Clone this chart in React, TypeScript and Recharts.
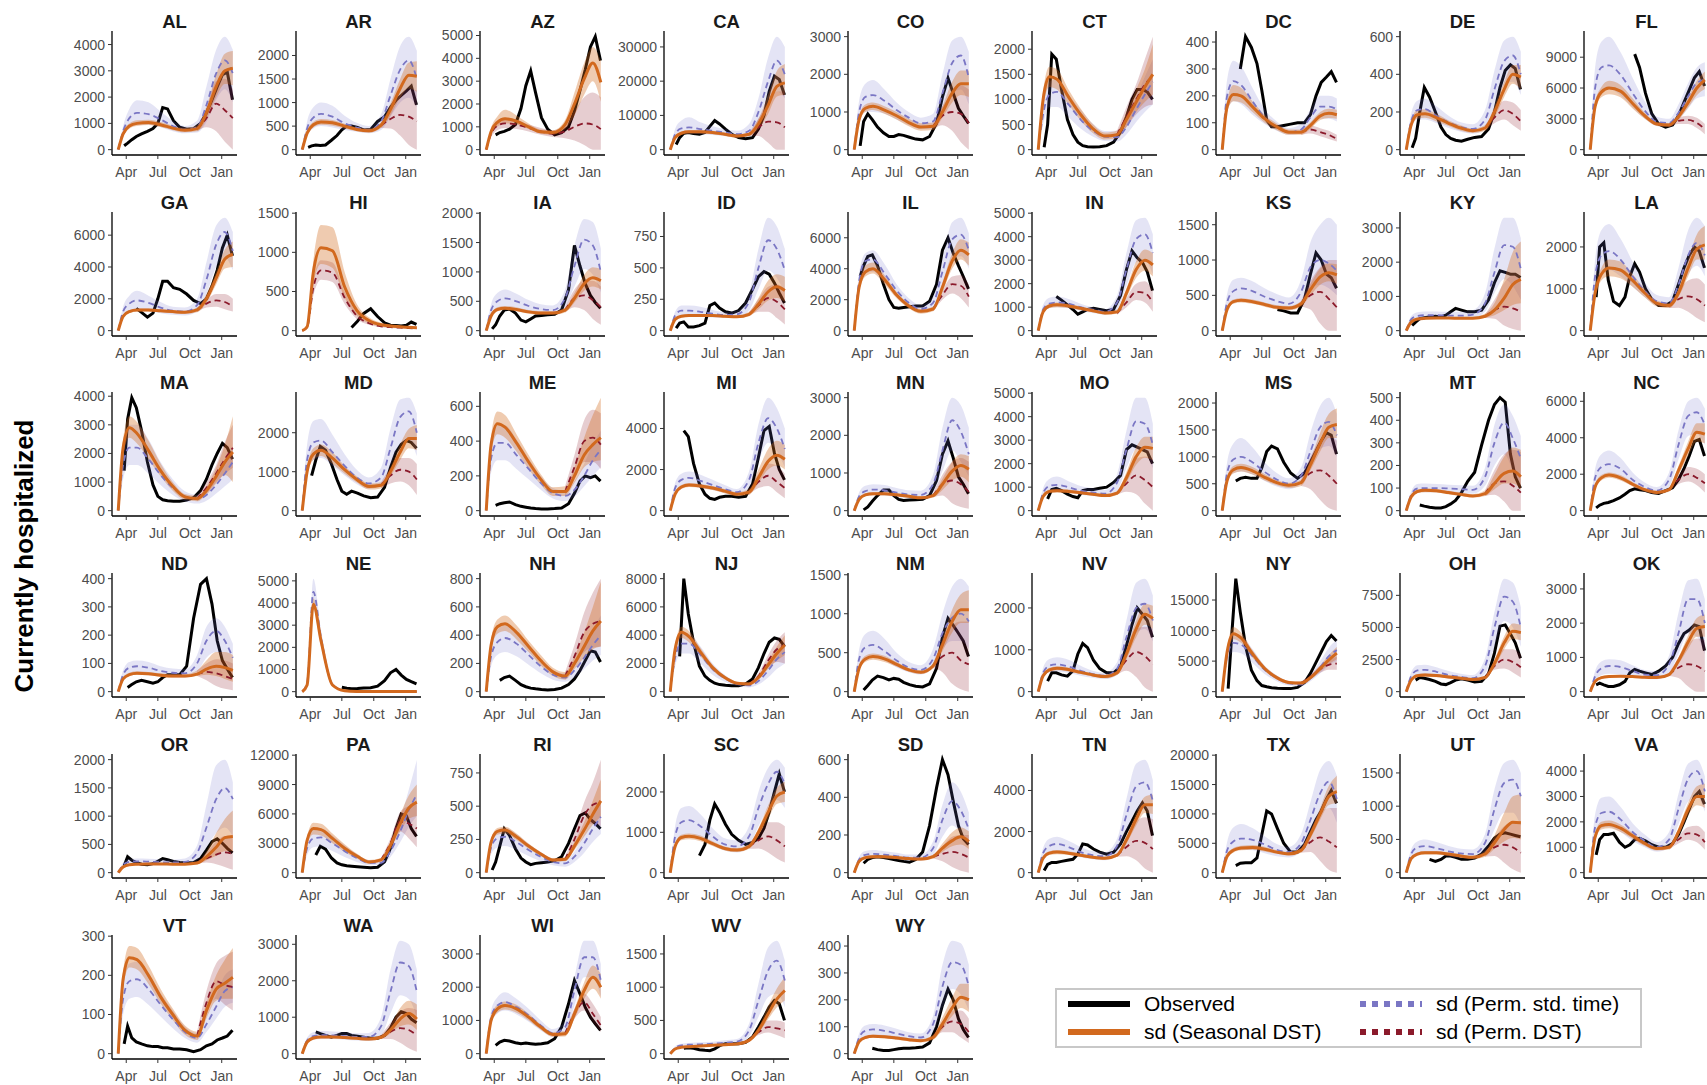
import React from 'react';
import { ComposedChart, Area, Line, XAxis, YAxis } from 'recharts';

const _ = null;

// days counted from 1 Mar 2020
const obsDays = [25, 35, 47, 60, 75, 92, 108, 122, 136, 150, 167, 185, 205, 225, 245, 262, 278, 293, 308, 322, 337];
const modelDays = [8, 22, 40, 62, 95, 130, 165, 200, 235, 262, 290, 315, 338];
const monthTicks = [31, 122, 214, 306];
const monthNames: Record<number, string> = { 31: 'Apr', 122: 'Jul', 214: 'Oct', 306: 'Jan' };

type Panel = {
  ticks: number[];
  obs: (number | null)[];
  sd: number[]; sdLo: number[]; sdHi: number[];
  std: number[]; stdLo: number[]; stdHi: number[];
  dst: number[]; dstLo: number[]; dstHi: number[];
};

const AL: Panel = {
  ticks: [0, 1000, 2000, 3000, 4000],
  obs: [150, 250, 380, 500, 600, 700, 800, 1000, 1600, 1550, 1100, 850, 780, 800, 1000, 1400, 1900, 2400, 2850, 2950, 1900],
  sd: [0, 600, 900, 1000, 1030, 950, 820, 740, 800, 1400, 2400, 3000, 3100],
  sdLo: [0, 500, 800, 900, 940, 860, 740, 660, 700, 1150, 2000, 2500, 2450],
  sdHi: [0, 700, 1000, 1120, 1140, 1050, 910, 830, 920, 1650, 2850, 3650, 3750],
  std: [0, 700, 1200, 1400, 1350, 1150, 900, 760, 850, 1700, 2900, 3400, 2900],
  stdLo: [0, 500, 850, 950, 950, 850, 700, 620, 650, 1050, 1900, 2300, 1800],
  stdHi: [0, 900, 1550, 1880, 1800, 1450, 1100, 900, 1100, 2400, 3800, 4300, 3800],
  dst: [800, 1200, 1750, 1500, 1200],
  dstLo: [700, 850, 700, 300, 0],
  dstHi: [900, 1550, 2600, 2700, 2300],
};
const AR: Panel = {
  ticks: [0, 500, 1000, 1500, 2000],
  obs: [50, 80, 100, 90, 100, 200, 300, 420, 500, 500, 470, 420, 430, 600, 700, 900, 1050, 1150, 1250, 1350, 950],
  sd: [0, 350, 530, 590, 570, 500, 430, 400, 520, 850, 1300, 1580, 1560],
  sdLo: [0, 300, 470, 530, 510, 450, 390, 360, 460, 720, 1100, 1300, 1230],
  sdHi: [0, 400, 590, 650, 630, 550, 470, 450, 580, 980, 1500, 1850, 1880],
  std: [0, 450, 680, 760, 700, 560, 470, 420, 600, 1150, 1700, 1900, 1500],
  stdLo: [0, 300, 450, 500, 470, 420, 380, 350, 420, 700, 1000, 1100, 900],
  stdHi: [0, 600, 900, 1000, 930, 720, 570, 500, 750, 1500, 2200, 2400, 2100],
  dst: [520, 650, 740, 700, 600],
  dstLo: [460, 450, 300, 100, 0],
  dstHi: [580, 850, 1150, 1300, 1250],
};
const AZ: Panel = {
  ticks: [0, 1000, 2000, 3000, 4000, 5000],
  obs: [_, 650, 750, 800, 900, 1100, 1800, 2800, 3450, 2500, 1400, 900, 650, 750, 1000, 1700, 2600, 3500, 4500, 4950, 3900],
  sd: [0, 800, 1200, 1350, 1250, 1000, 780, 750, 1100, 2000, 3100, 3800, 2950],
  sdLo: [0, 650, 1000, 1150, 1100, 900, 700, 650, 900, 1500, 2400, 3000, 2100],
  sdHi: [0, 950, 1450, 1750, 1500, 1150, 880, 850, 1300, 2500, 3800, 4500, 3900],
  std: [], stdLo: [], stdHi: [],
  dst: [0, 700, 1050, 1150, 1100, 950, 800, 700, 800, 1000, 1150, 1100, 900],
  dstLo: [0, 550, 850, 950, 900, 800, 650, 550, 500, 400, 200, 0, 0],
  dstHi: [0, 850, 1250, 1400, 1300, 1100, 950, 850, 1100, 1700, 2300, 2500, 2300],
};
const CA: Panel = {
  ticks: [0, 10000, 20000, 30000],
  obs: [1500, 3500, 4800, 5000, 4700, 4500, 5000, 6800, 8500, 7500, 6000, 4500, 3500, 3200, 3500, 6000, 10000, 17000, 21500, 20500, 16000],
  sd: [0, 3500, 4800, 5200, 5200, 5000, 4500, 4000, 4500, 7500, 13000, 18500, 19500],
  sdLo: [0, 3000, 4300, 4700, 4700, 4500, 4000, 3500, 4000, 6000, 10500, 15500, 16000],
  sdHi: [0, 4000, 5300, 5700, 5700, 5500, 5000, 4500, 5000, 9000, 16000, 23000, 25000],
  std: [0, 4500, 6200, 6500, 6000, 5500, 5000, 4500, 5500, 11000, 20000, 26000, 22000],
  stdLo: [0, 3000, 4500, 4700, 4500, 4300, 4000, 3500, 4000, 7000, 13000, 17000, 15000],
  stdHi: [0, 6000, 8500, 9500, 8000, 6800, 6000, 5500, 7500, 15000, 27000, 33000, 30000],
  dst: [4500, 6500, 8200, 8000, 6500],
  dstLo: [4000, 4000, 2000, 0, 0],
  dstHi: [5000, 9000, 14000, 17000, 17000],
};
const CO: Panel = {
  ticks: [0, 1000, 2000, 3000],
  obs: [100, 750, 950, 800, 600, 450, 350, 350, 400, 380, 330, 280, 260, 350, 700, 1400, 1900, 1500, 1100, 900, 700],
  sd: [0, 800, 1100, 1150, 1050, 900, 720, 600, 620, 1000, 1500, 1750, 1750],
  sdLo: [0, 700, 1000, 1050, 950, 800, 620, 500, 520, 850, 1250, 1450, 1400],
  sdHi: [0, 900, 1200, 1250, 1150, 1000, 820, 700, 720, 1150, 1800, 2100, 2100],
  std: [0, 1000, 1400, 1450, 1300, 1050, 850, 700, 750, 1500, 2300, 2500, 1900],
  stdLo: [0, 700, 1000, 1000, 950, 800, 650, 550, 550, 950, 1500, 1600, 1200],
  stdHi: [0, 1300, 1750, 1850, 1600, 1250, 1000, 850, 950, 2000, 2900, 3000, 2600],
  dst: [620, 900, 1000, 950, 700],
  dstLo: [550, 650, 500, 200, 0],
  dstHi: [700, 1150, 1500, 1700, 1600],
};
const CT: Panel = {
  ticks: [0, 500, 1000, 1500, 2000],
  obs: [50, 500, 1900, 1800, 1200, 600, 300, 150, 80, 60, 55, 60, 80, 150, 350, 650, 1000, 1200, 1200, 1150, 1000],
  sd: [0, 1000, 1450, 1400, 1050, 700, 420, 270, 300, 600, 950, 1250, 1500],
  sdLo: [0, 850, 1250, 1200, 900, 580, 330, 200, 220, 450, 750, 950, 1100],
  sdHi: [0, 1150, 1650, 1600, 1200, 820, 510, 340, 380, 750, 1200, 1600, 2100],
  std: [0, 700, 1100, 1150, 900, 600, 380, 260, 250, 450, 800, 1100, 1350],
  stdLo: [0, 500, 850, 850, 650, 420, 260, 170, 160, 300, 550, 750, 900],
  stdHi: [0, 900, 1350, 1400, 1100, 800, 520, 370, 380, 650, 1050, 1450, 1800],
  dst: [300, 650, 1000, 1300, 1450],
  dstLo: [220, 450, 700, 850, 900],
  dstHi: [380, 850, 1300, 1800, 2250],
};
const DC: Panel = {
  ticks: [0, 100, 200, 300, 400],
  obs: [_, _, _, 300, 420, 380, 320, 220, 110, 85, 85, 90, 95, 100, 100, 130, 200, 250, 270, 290, 250],
  sd: [0, 160, 205, 200, 160, 115, 85, 65, 65, 90, 125, 135, 130],
  sdLo: [0, 140, 180, 175, 140, 100, 72, 55, 55, 78, 110, 118, 115],
  sdHi: [0, 180, 240, 230, 180, 130, 97, 75, 75, 102, 140, 152, 148],
  std: [0, 200, 255, 240, 180, 120, 85, 65, 75, 120, 160, 160, 150],
  stdLo: [0, 140, 180, 170, 130, 95, 70, 55, 60, 90, 115, 115, 105],
  stdHi: [0, 260, 330, 310, 230, 150, 105, 80, 95, 150, 200, 200, 190],
  dst: [65, 75, 65, 55, 40],
  dstLo: [55, 60, 50, 40, 30],
  dstHi: [75, 90, 80, 70, 55],
};
const DE: Panel = {
  ticks: [0, 200, 400, 600],
  obs: [10, 60, 200, 330, 280, 200, 120, 80, 60, 50, 45, 55, 65, 70, 110, 200, 330, 420, 450, 430, 320],
  sd: [0, 130, 185, 190, 170, 140, 115, 100, 115, 200, 320, 400, 385],
  sdLo: [0, 110, 165, 170, 150, 125, 100, 88, 100, 170, 280, 350, 320],
  sdHi: [0, 150, 210, 215, 190, 155, 130, 112, 130, 230, 360, 450, 450],
  std: [0, 150, 210, 215, 180, 145, 120, 110, 160, 320, 470, 500, 400],
  stdLo: [0, 110, 160, 160, 140, 115, 95, 85, 110, 220, 340, 360, 290],
  stdHi: [0, 190, 260, 270, 230, 180, 145, 135, 210, 420, 580, 600, 520],
  dst: [115, 170, 210, 190, 150],
  dstLo: [100, 140, 160, 130, 100],
  dstHi: [130, 200, 260, 250, 210],
};
const FL: Panel = {
  ticks: [0, 3000, 6000, 9000],
  obs: [_, _, _, _, _, _, _, _, 9300, 8000, 5500, 3500, 2500, 2200, 2400, 3300, 4600, 5800, 7000, 7600, 6200],
  sd: [0, 4200, 5600, 6000, 5700, 4500, 3300, 2500, 2400, 3200, 4600, 6000, 6800],
  sdLo: [0, 3800, 5100, 5400, 5100, 4000, 3000, 2300, 2200, 2900, 4100, 5300, 5900],
  sdHi: [0, 4600, 6100, 6700, 6300, 5000, 3600, 2700, 2600, 3500, 5100, 6700, 7600],
  std: [0, 6000, 8000, 8200, 7300, 5500, 3800, 2700, 2600, 3600, 5200, 6500, 6800],
  stdLo: [0, 4200, 5700, 5900, 5300, 4100, 3000, 2300, 2200, 2900, 4000, 5000, 5200],
  stdHi: [0, 8000, 10500, 11000, 9500, 7000, 4700, 3200, 3000, 4400, 6500, 8000, 8500],
  dst: [2400, 2800, 2900, 2600, 2000],
  dstLo: [2200, 2500, 2500, 2100, 1500],
  dstHi: [2600, 3100, 3300, 3100, 2500],
};
const GA: Panel = {
  ticks: [0, 2000, 4000, 6000],
  obs: [_, _, _, 1400, 1150, 850, 1100, 2000, 3100, 3100, 2700, 2600, 2300, 1900, 1700, 2000, 2800, 3800, 5200, 6000, 4700],
  sd: [0, 900, 1200, 1300, 1300, 1250, 1200, 1150, 1300, 2000, 3300, 4500, 4800],
  sdLo: [0, 800, 1100, 1200, 1200, 1150, 1100, 1050, 1150, 1750, 2900, 3900, 4000],
  sdHi: [0, 1000, 1300, 1400, 1400, 1350, 1300, 1250, 1450, 2300, 3700, 5100, 5600],
  std: [0, 1200, 1700, 1900, 1750, 1450, 1250, 1200, 1600, 3200, 5400, 6200, 5000],
  stdLo: [0, 900, 1200, 1350, 1250, 1100, 1000, 950, 1200, 2300, 4000, 4600, 3800],
  stdHi: [0, 1500, 2200, 2500, 2200, 1800, 1500, 1450, 2000, 4300, 6600, 7100, 6200],
  dst: [1300, 1700, 1900, 1800, 1500],
  dstLo: [1150, 1450, 1500, 1350, 1200],
  dstHi: [1450, 1950, 2300, 2300, 2000],
};
const HI: Panel = {
  ticks: [0, 500, 1000, 1500],
  obs: [_, _, _, _, _, _, _, _, _, 40, 120, 220, 280, 180, 100, 70, 65, 60, 70, 110, 80],
  sd: [0, 50, 750, 1060, 1020, 560, 260, 130, 75, 60, 50, 42, 38],
  sdLo: [0, 40, 600, 850, 800, 420, 190, 95, 55, 45, 38, 32, 28],
  sdHi: [0, 60, 900, 1350, 1320, 750, 340, 170, 100, 80, 65, 55, 50],
  std: [], stdLo: [], stdHi: [],
  dst: [0, 40, 550, 770, 740, 420, 190, 95, 55, 45, 38, 32, 28],
  dstLo: [0, 30, 450, 650, 620, 340, 150, 75, 45, 35, 30, 25, 22],
  dstHi: [0, 50, 650, 900, 870, 500, 230, 115, 65, 55, 46, 40, 35],
};
const IA: Panel = {
  ticks: [0, 500, 1000, 1500, 2000],
  obs: [30, 100, 250, 350, 370, 300, 180, 150, 200, 250, 260, 270, 280, 350, 700, 1450, 1100, 800, 600, 480, 380],
  sd: [0, 250, 360, 380, 360, 320, 300, 300, 350, 550, 800, 900, 850],
  sdLo: [0, 220, 330, 350, 330, 290, 270, 270, 310, 480, 680, 750, 700],
  sdHi: [0, 280, 400, 420, 400, 350, 330, 330, 390, 640, 950, 1080, 1050],
  std: [0, 350, 500, 550, 500, 420, 370, 350, 550, 1100, 1550, 1450, 1000],
  stdLo: [0, 250, 350, 400, 370, 320, 290, 280, 400, 750, 1050, 950, 650],
  stdHi: [0, 450, 640, 700, 630, 520, 450, 430, 700, 1450, 1900, 1850, 1400],
  dst: [350, 550, 600, 520, 400],
  dstLo: [310, 400, 350, 200, 100],
  dstHi: [390, 700, 850, 850, 750],
};
const ID: Panel = {
  ticks: [0, 250, 500, 750],
  obs: [20, 60, 70, 30, 30, 40, 60, 200, 220, 180, 150, 140, 160, 220, 330, 430, 470, 450, 380, 300, 220],
  sd: [0, 90, 115, 120, 120, 120, 115, 110, 130, 210, 310, 350, 320],
  sdLo: [0, 80, 105, 110, 110, 110, 105, 100, 115, 170, 240, 260, 230],
  sdHi: [0, 100, 125, 130, 130, 130, 125, 122, 150, 260, 400, 450, 430],
  std: [0, 120, 160, 160, 150, 135, 125, 130, 230, 500, 720, 650, 480],
  stdLo: [0, 90, 120, 120, 115, 105, 100, 100, 160, 330, 480, 420, 300],
  stdHi: [0, 150, 200, 200, 190, 165, 150, 160, 300, 650, 900, 830, 650],
  dst: [130, 200, 260, 230, 170],
  dstLo: [115, 150, 150, 100, 50],
  dstHi: [150, 250, 350, 370, 330],
};
const IL: Panel = {
  ticks: [0, 2000, 4000, 6000],
  obs: [3500, 4200, 4800, 4900, 4200, 3000, 2000, 1500, 1450, 1500, 1550, 1600, 1600, 1900, 3000, 5200, 6000, 5000, 4200, 3500, 2700],
  sd: [0, 2800, 3800, 4000, 3300, 2300, 1600, 1250, 1400, 2800, 4500, 5200, 4900],
  sdLo: [0, 2500, 3500, 3700, 3000, 2100, 1450, 1100, 1250, 2500, 4000, 4600, 4200],
  sdHi: [0, 3100, 4200, 4400, 3600, 2500, 1750, 1400, 1550, 3100, 5000, 5900, 5700],
  std: [0, 3200, 4500, 4600, 3700, 2600, 1800, 1400, 1800, 3800, 5900, 6200, 5200],
  stdLo: [0, 2600, 3700, 3800, 3100, 2200, 1500, 1150, 1400, 2900, 4600, 4800, 4000],
  stdHi: [0, 3700, 5000, 5200, 4300, 3000, 2100, 1650, 2200, 4600, 7000, 7300, 6300],
  dst: [1400, 2300, 3000, 2900, 2200],
  dstLo: [1250, 2000, 2400, 2100, 1500],
  dstHi: [1550, 2600, 3500, 3600, 3000],
};
const IN: Panel = {
  ticks: [0, 1000, 2000, 3000, 4000, 5000],
  obs: [_, _, _, 1450, 1300, 1100, 900, 700, 800, 900, 950, 900, 850, 900, 1500, 2600, 3400, 3100, 2900, 2500, 1700],
  sd: [0, 800, 1050, 1100, 1050, 950, 850, 750, 800, 1600, 2600, 3000, 2800],
  sdLo: [0, 720, 960, 1000, 960, 870, 780, 680, 720, 1400, 2250, 2550, 2300],
  sdHi: [0, 880, 1140, 1200, 1140, 1030, 920, 820, 900, 1800, 2950, 3450, 3300],
  std: [0, 900, 1150, 1200, 1150, 1000, 900, 800, 1200, 2600, 3900, 4100, 3300],
  stdLo: [0, 700, 950, 1000, 950, 850, 750, 680, 900, 1900, 2900, 3000, 2400],
  stdHi: [0, 1100, 1400, 1450, 1350, 1150, 1000, 920, 1500, 3300, 4700, 4800, 4100],
  dst: [750, 1200, 1650, 1600, 1200],
  dstLo: [680, 1000, 1300, 1200, 800],
  dstHi: [820, 1400, 2000, 2100, 1700],
};
const KS: Panel = {
  ticks: [0, 500, 1000, 1500],
  obs: [_, _, _, _, _, _, _, _, _, _, 300, 280, 250, 250, 450, 800, 1100, 1000, 800, 750, 600],
  sd: [0, 300, 410, 430, 410, 370, 330, 320, 380, 580, 760, 820, 790],
  sdLo: [0, 270, 380, 400, 380, 340, 300, 290, 340, 500, 650, 700, 660],
  sdHi: [0, 330, 440, 460, 440, 400, 360, 350, 420, 660, 880, 950, 940],
  std: [0, 400, 560, 600, 560, 480, 420, 380, 550, 900, 1000, 950, 850],
  stdLo: [0, 280, 400, 430, 410, 360, 320, 290, 380, 600, 650, 600, 500],
  stdHi: [0, 520, 720, 750, 700, 600, 520, 470, 720, 1250, 1500, 1600, 1500],
  dst: [380, 500, 550, 450, 330],
  dstLo: [340, 300, 100, 0, 0],
  dstHi: [420, 700, 900, 1000, 1000],
};
const KY: Panel = {
  ticks: [0, 1000, 2000, 3000],
  obs: [150, 250, 350, 380, 400, 420, 400, 450, 550, 650, 600, 550, 550, 600, 900, 1400, 1750, 1700, 1650, 1650, 1550],
  sd: [0, 250, 340, 360, 370, 370, 360, 360, 420, 600, 950, 1350, 1500],
  sdLo: [0, 220, 310, 330, 340, 340, 330, 330, 370, 450, 600, 750, 800],
  sdHi: [0, 280, 370, 390, 400, 400, 390, 400, 500, 800, 1500, 2300, 2600],
  std: [0, 330, 430, 450, 450, 440, 440, 470, 800, 1700, 2500, 2450, 1800],
  stdLo: [0, 250, 330, 350, 350, 340, 340, 360, 550, 1100, 1500, 1300, 900],
  stdHi: [0, 420, 540, 560, 560, 550, 550, 600, 1100, 2400, 3300, 3300, 2700],
  dst: [420, 600, 700, 650, 550],
  dstLo: [370, 350, 150, 50, 0],
  dstHi: [470, 900, 1400, 1600, 1500],
};
const LA: Panel = {
  ticks: [0, 1000, 2000],
  obs: [800, 2000, 2100, 1200, 700, 600, 800, 1300, 1600, 1400, 1000, 750, 600, 600, 700, 1100, 1500, 1800, 2000, 1900, 1500],
  sd: [0, 900, 1350, 1500, 1450, 1200, 900, 650, 600, 900, 1500, 1950, 2050],
  sdLo: [0, 750, 1200, 1300, 1250, 1050, 800, 580, 540, 800, 1300, 1700, 1700],
  sdHi: [0, 1050, 1500, 1700, 1650, 1350, 1000, 720, 660, 1000, 1700, 2300, 2500],
  std: [0, 1300, 1800, 1900, 1700, 1300, 950, 700, 650, 1100, 1800, 2100, 1800],
  stdLo: [0, 1000, 1400, 1450, 1300, 1050, 800, 600, 550, 850, 1350, 1550, 1300],
  stdHi: [0, 1700, 2400, 2550, 2200, 1650, 1150, 850, 800, 1500, 2400, 2700, 2500],
  dst: [600, 750, 820, 750, 600],
  dstLo: [540, 550, 450, 300, 200],
  dstHi: [660, 950, 1200, 1250, 1100],
};
const MA: Panel = {
  ticks: [0, 1000, 2000, 3000, 4000],
  obs: [1400, 3200, 3950, 3600, 2800, 1700, 900, 500, 380, 350, 330, 330, 370, 450, 700, 1100, 1600, 2000, 2350, 2200, 1800],
  sd: [0, 2200, 2900, 2700, 2100, 1400, 850, 480, 420, 700, 1200, 1700, 2050],
  sdLo: [0, 1900, 2550, 2350, 1800, 1200, 700, 380, 330, 560, 950, 1250, 1000],
  sdHi: [0, 2500, 3300, 3100, 2450, 1650, 1000, 580, 520, 850, 1500, 2300, 3300],
  std: [0, 1600, 2200, 2200, 1800, 1250, 800, 500, 400, 550, 900, 1300, 1700],
  stdLo: [0, 1100, 1600, 1600, 1300, 900, 550, 330, 250, 350, 600, 850, 1100],
  stdHi: [0, 2300, 3000, 3000, 2500, 1700, 1100, 680, 560, 750, 1200, 1700, 2200],
  dst: [420, 800, 1300, 1800, 2200],
  dstLo: [330, 600, 1000, 1300, 1500],
  dstHi: [520, 1000, 1600, 2400, 3000],
};
const MD: Panel = {
  ticks: [0, 1000, 2000],
  obs: [_, 900, 1300, 1650, 1550, 1200, 800, 500, 420, 500, 450, 380, 330, 350, 600, 1100, 1500, 1700, 1800, 1750, 1600],
  sd: [0, 1000, 1450, 1550, 1350, 1050, 800, 620, 650, 1000, 1500, 1850, 1850],
  sdLo: [0, 900, 1300, 1400, 1200, 950, 720, 540, 570, 880, 1300, 1600, 1550],
  sdHi: [0, 1100, 1600, 1700, 1500, 1150, 880, 700, 730, 1120, 1700, 2100, 2200],
  std: [0, 1300, 1750, 1800, 1500, 1150, 850, 700, 850, 1600, 2400, 2550, 2000],
  stdLo: [0, 950, 1300, 1350, 1150, 900, 680, 560, 650, 1150, 1700, 1800, 1400],
  stdHi: [0, 1700, 2300, 2350, 1950, 1450, 1050, 850, 1100, 2100, 2850, 2900, 2500],
  dst: [650, 900, 1050, 1000, 800],
  dstLo: [570, 700, 750, 650, 400],
  dstHi: [730, 1100, 1350, 1350, 1200],
};
const ME: Panel = {
  ticks: [0, 200, 400, 600],
  obs: [_, 30, 40, 45, 50, 35, 25, 20, 15, 12, 10, 10, 12, 15, 40, 100, 170, 200, 190, 200, 170],
  sd: [0, 380, 500, 480, 390, 280, 180, 110, 110, 200, 320, 380, 420],
  sdLo: [0, 330, 440, 420, 340, 240, 150, 85, 85, 160, 250, 280, 290],
  sdHi: [0, 430, 570, 550, 440, 320, 210, 135, 140, 250, 420, 550, 650],
  std: [0, 300, 390, 390, 320, 240, 160, 100, 85, 120, 200, 290, 350],
  stdLo: [0, 220, 290, 290, 240, 180, 120, 70, 55, 80, 140, 200, 250],
  stdHi: [0, 380, 490, 490, 410, 300, 200, 130, 115, 170, 270, 380, 460],
  dst: [110, 250, 400, 420, 380],
  dstLo: [85, 180, 280, 280, 240],
  dstHi: [140, 320, 520, 580, 560],
};
const MI: Panel = {
  ticks: [0, 2000, 4000],
  obs: [_, _, 3900, 3600, 2300, 1300, 800, 600, 550, 650, 700, 700, 650, 700, 1300, 2600, 3900, 4100, 2800, 2000, 1500],
  sd: [0, 800, 1150, 1250, 1200, 1100, 950, 800, 900, 1600, 2400, 2700, 2500],
  sdLo: [0, 700, 1050, 1150, 1100, 1000, 850, 700, 780, 1350, 2000, 2200, 2000],
  sdHi: [0, 900, 1250, 1350, 1300, 1200, 1050, 900, 1050, 2000, 3000, 3400, 3200],
  std: [0, 1100, 1500, 1600, 1450, 1250, 1050, 900, 1500, 3300, 4500, 4000, 3000],
  stdLo: [0, 850, 1150, 1200, 1100, 1000, 850, 750, 1100, 2400, 3300, 2900, 2100],
  stdHi: [0, 1350, 1800, 1900, 1750, 1500, 1250, 1050, 1900, 4200, 5500, 5000, 4000],
  dst: [900, 1400, 1700, 1400, 1100],
  dstLo: [780, 1100, 1200, 900, 600],
  dstHi: [1050, 1800, 2300, 2200, 1800],
};
const MN: Panel = {
  ticks: [0, 1000, 2000, 3000],
  obs: [_, 20, 100, 250, 400, 550, 550, 400, 300, 270, 280, 290, 300, 400, 800, 1500, 1850, 1400, 900, 700, 450],
  sd: [0, 300, 420, 450, 450, 420, 380, 340, 400, 700, 1050, 1200, 1100],
  sdLo: [0, 270, 380, 410, 410, 380, 340, 300, 350, 550, 800, 900, 750],
  sdHi: [0, 330, 460, 490, 490, 460, 420, 380, 450, 850, 1300, 1500, 1450],
  std: [0, 380, 520, 560, 540, 480, 430, 420, 700, 1600, 2400, 2100, 1500],
  stdLo: [0, 280, 380, 410, 400, 360, 330, 320, 480, 1050, 1600, 1300, 900],
  stdHi: [0, 480, 660, 700, 680, 600, 540, 530, 950, 2200, 3000, 2800, 2200],
  dst: [400, 700, 800, 700, 500],
  dstLo: [350, 400, 200, 100, 50],
  dstHi: [450, 950, 1300, 1400, 1300],
};
const MO: Panel = {
  ticks: [0, 1000, 2000, 3000, 4000, 5000],
  obs: [_, 500, 900, 950, 850, 700, 600, 550, 850, 900, 900, 950, 1000, 1200, 1500, 2600, 2800, 2700, 2600, 2500, 2000],
  sd: [0, 600, 820, 850, 820, 760, 700, 640, 750, 1400, 2300, 2700, 2650],
  sdLo: [0, 540, 750, 780, 750, 700, 640, 580, 670, 1200, 1950, 2250, 2150],
  sdHi: [0, 660, 900, 930, 900, 830, 760, 700, 840, 1650, 2700, 3150, 3150],
  std: [0, 750, 1050, 1100, 1000, 850, 780, 720, 1200, 2600, 3800, 3700, 2800],
  stdLo: [0, 550, 800, 850, 780, 680, 620, 570, 850, 1800, 2600, 2500, 1800],
  stdHi: [0, 950, 1350, 1450, 1250, 1050, 950, 880, 1550, 3400, 4800, 4800, 3700],
  dst: [750, 1150, 1500, 1300, 1000],
  dstLo: [670, 800, 700, 300, 0],
  dstHi: [840, 1500, 2200, 2300, 2200],
};
const MS: Panel = {
  ticks: [0, 500, 1000, 1500, 2000],
  obs: [_, _, 550, 600, 620, 600, 600, 800, 1100, 1200, 1150, 900, 700, 600, 700, 900, 1100, 1300, 1450, 1400, 1050],
  sd: [0, 560, 760, 800, 740, 620, 520, 470, 520, 850, 1250, 1550, 1600],
  sdLo: [0, 500, 690, 730, 670, 560, 470, 420, 460, 750, 1100, 1350, 1350],
  sdHi: [0, 620, 830, 870, 810, 680, 570, 520, 580, 950, 1450, 1800, 1900],
  std: [0, 700, 950, 1000, 900, 720, 580, 500, 650, 1100, 1550, 1650, 1400],
  stdLo: [0, 500, 700, 730, 670, 550, 450, 400, 500, 850, 1150, 1200, 1000],
  stdHi: [0, 900, 1250, 1350, 1180, 900, 700, 600, 800, 1450, 1950, 2100, 1800],
  dst: [520, 700, 750, 650, 500],
  dstLo: [460, 400, 200, 50, 0],
  dstHi: [580, 1000, 1300, 1400, 1300],
};
const MT: Panel = {
  ticks: [0, 100, 200, 300, 400, 500],
  obs: [_, _, 25, 20, 15, 12, 12, 18, 30, 45, 80, 130, 170, 290, 400, 470, 500, 480, 250, 150, 100],
  sd: [0, 60, 85, 90, 88, 80, 72, 65, 75, 120, 165, 175, 150],
  sdLo: [0, 53, 78, 82, 80, 72, 65, 58, 65, 95, 120, 120, 95],
  sdHi: [0, 67, 93, 98, 96, 88, 80, 73, 90, 160, 240, 280, 270],
  std: [0, 70, 98, 100, 100, 98, 95, 92, 150, 300, 390, 320, 230],
  stdLo: [0, 55, 80, 82, 82, 80, 78, 75, 110, 200, 250, 180, 110],
  stdHi: [0, 85, 118, 120, 118, 115, 112, 110, 190, 380, 470, 420, 330],
  dst: [75, 120, 130, 110, 80],
  dstLo: [65, 70, 40, 0, 0],
  dstHi: [90, 180, 250, 270, 260],
};
const NC: Panel = {
  ticks: [0, 2000, 4000, 6000],
  obs: [150, 300, 400, 450, 550, 700, 900, 1100, 1200, 1150, 1100, 1000, 950, 1100, 1250, 1700, 2300, 3000, 3800, 3900, 3000],
  sd: [0, 1300, 1800, 1950, 1800, 1450, 1150, 1000, 1150, 2200, 3400, 4300, 4200],
  sdLo: [0, 1150, 1650, 1800, 1650, 1330, 1050, 900, 1050, 1950, 3000, 3800, 3700],
  sdHi: [0, 1450, 1950, 2100, 1950, 1570, 1250, 1100, 1250, 2450, 3800, 4800, 4800],
  std: [0, 1800, 2400, 2550, 2300, 1700, 1300, 1100, 1700, 3600, 5200, 5400, 4700],
  stdLo: [0, 1300, 1800, 1900, 1700, 1350, 1050, 900, 1300, 2800, 4100, 4200, 3600],
  stdHi: [0, 2300, 3100, 3300, 2900, 2100, 1550, 1300, 2100, 4400, 6000, 6200, 5600],
  dst: [1150, 1700, 2000, 1800, 1500],
  dstLo: [1050, 1450, 1600, 1400, 1000],
  dstHi: [1250, 1950, 2400, 2300, 2000],
};
const ND: Panel = {
  ticks: [0, 100, 200, 300, 400],
  obs: [_, 15, 25, 35, 40, 35, 30, 35, 50, 60, 60, 60, 90, 260, 380, 400, 310, 180, 110, 80, 50],
  sd: [0, 45, 60, 65, 63, 58, 55, 55, 62, 80, 90, 85, 75],
  sdLo: [0, 40, 55, 60, 58, 53, 50, 50, 55, 60, 55, 45, 35],
  sdHi: [0, 50, 67, 72, 70, 65, 62, 62, 75, 110, 140, 140, 130],
  std: [0, 60, 85, 90, 85, 73, 67, 65, 100, 180, 215, 180, 120],
  stdLo: [0, 45, 62, 65, 62, 55, 50, 50, 70, 120, 140, 110, 70],
  stdHi: [0, 75, 105, 110, 105, 90, 82, 80, 130, 230, 260, 230, 170],
  dst: [62, 70, 65, 55, 45],
  dstLo: [55, 40, 20, 10, 5],
  dstHi: [75, 100, 115, 110, 100],
};
const NE: Panel = {
  ticks: [0, 1000, 2000, 3000, 4000, 5000],
  obs: [_, _, _, _, _, _, _, 200, 150, 130, 140, 160, 180, 250, 500, 850, 1000, 750, 550, 450, 350],
  sd: [0, 300, 3950, 2300, 300, 40, 10, 5, 5, 5, 5, 5, 5],
  sdLo: [0, 250, 3700, 2050, 240, 30, 5, 3, 3, 3, 3, 3, 3],
  sdHi: [0, 350, 4200, 2550, 380, 50, 15, 8, 8, 8, 8, 8, 8],
  std: [0, 400, 4500, 2450, 320, 40, 10, 5, 5, 5, 5, 5, 5],
  stdLo: [0, 300, 4000, 2150, 260, 30, 5, 3, 3, 3, 3, 3, 3],
  stdHi: [0, 500, 5100, 2800, 420, 55, 15, 8, 8, 8, 8, 8, 8],
  dst: [], dstLo: [], dstHi: [],
};
const NH: Panel = {
  ticks: [0, 200, 400, 600, 800],
  obs: [_, _, 80, 100, 110, 80, 50, 35, 25, 20, 15, 12, 15, 25, 50, 90, 150, 220, 290, 280, 210],
  sd: [0, 330, 460, 480, 420, 320, 220, 140, 110, 200, 320, 430, 500],
  sdLo: [0, 290, 410, 430, 370, 280, 185, 110, 85, 160, 240, 300, 320],
  sdHi: [0, 370, 510, 540, 470, 360, 260, 170, 140, 250, 420, 600, 780],
  std: [0, 250, 350, 380, 340, 260, 180, 120, 100, 150, 240, 330, 400],
  stdLo: [0, 180, 260, 280, 250, 190, 130, 85, 70, 100, 160, 220, 260],
  stdHi: [0, 320, 440, 470, 420, 320, 230, 150, 130, 200, 320, 440, 540],
  dst: [110, 250, 420, 480, 500],
  dstLo: [85, 180, 280, 310, 320],
  dstHi: [140, 330, 560, 700, 800],
};
const NJ: Panel = {
  ticks: [0, 2000, 4000, 6000, 8000],
  obs: [_, 2500, 8000, 5500, 3500, 1800, 1100, 800, 600, 500, 450, 420, 420, 550, 900, 1700, 2700, 3500, 3800, 3700, 3200],
  sd: [0, 3000, 4200, 3900, 2800, 1700, 1000, 600, 550, 1000, 1900, 2700, 3300],
  sdLo: [0, 2700, 3800, 3500, 2500, 1500, 880, 500, 450, 850, 1600, 2200, 2600],
  sdHi: [0, 3300, 4600, 4300, 3100, 1900, 1120, 700, 650, 1150, 2200, 3200, 4000],
  std: [0, 2400, 3400, 3400, 2600, 1600, 950, 550, 450, 750, 1500, 2300, 2800],
  stdLo: [0, 1800, 2700, 2700, 2000, 1200, 700, 400, 300, 500, 1000, 1600, 2000],
  stdHi: [0, 3000, 4100, 4100, 3200, 2000, 1200, 700, 600, 1000, 2000, 2900, 3500],
  dst: [550, 1100, 2200, 3000, 3300],
  dstLo: [450, 900, 1700, 2100, 2000],
  dstHi: [650, 1300, 2600, 3600, 4200],
};
const NM: Panel = {
  ticks: [0, 500, 1000, 1500],
  obs: [_, 20, 80, 150, 200, 180, 150, 170, 160, 120, 90, 70, 60, 100, 300, 700, 940, 850, 750, 650, 450],
  sd: [0, 300, 420, 450, 420, 350, 280, 250, 330, 600, 900, 1050, 1050],
  sdLo: [0, 270, 380, 410, 380, 320, 255, 225, 300, 520, 760, 880, 880],
  sdHi: [0, 330, 460, 490, 460, 380, 305, 275, 360, 680, 1050, 1250, 1300],
  std: [0, 420, 570, 600, 520, 400, 310, 280, 420, 750, 950, 1000, 900],
  stdLo: [0, 300, 420, 450, 400, 310, 250, 220, 320, 550, 650, 650, 550],
  stdHi: [0, 540, 740, 780, 680, 500, 380, 340, 550, 1000, 1350, 1450, 1350],
  dst: [330, 450, 500, 400, 350],
  dstLo: [300, 250, 100, 30, 0],
  dstHi: [360, 650, 850, 900, 900],
};
const NV: Panel = {
  ticks: [0, 1000, 2000],
  obs: [_, 250, 450, 450, 400, 370, 500, 900, 1150, 1050, 750, 550, 450, 450, 600, 1100, 1600, 2000, 1850, 1700, 1300],
  sd: [0, 380, 520, 560, 530, 460, 400, 360, 450, 900, 1500, 1850, 1750],
  sdLo: [0, 340, 470, 510, 480, 420, 360, 320, 400, 780, 1300, 1600, 1500],
  sdHi: [0, 420, 570, 610, 580, 500, 440, 400, 500, 1020, 1700, 2100, 2050],
  std: [0, 450, 620, 650, 600, 500, 420, 380, 550, 1300, 2000, 2100, 1700],
  stdLo: [0, 330, 460, 480, 450, 380, 330, 300, 400, 900, 1400, 1500, 1200],
  stdHi: [0, 570, 780, 820, 760, 620, 500, 450, 700, 1700, 2600, 2700, 2300],
  dst: [450, 750, 950, 850, 650],
  dstLo: [400, 500, 350, 100, 0],
  dstHi: [500, 1000, 1500, 1550, 1500],
};
const NY: Panel = {
  ticks: [0, 5000, 10000, 15000],
  obs: [500, 9000, 18500, 13000, 7500, 3500, 1800, 1000, 800, 650, 550, 500, 500, 700, 1500, 3000, 4800, 6500, 8200, 9200, 8300],
  sd: [0, 6500, 9500, 8800, 6200, 3800, 2300, 1500, 1400, 2300, 3800, 5200, 6300],
  sdLo: [0, 5800, 8600, 8000, 5600, 3400, 2000, 1250, 1150, 2000, 3300, 4500, 5300],
  sdHi: [0, 7200, 10600, 9700, 6800, 4200, 2600, 1750, 1650, 2600, 4300, 6000, 7300],
  std: [0, 5800, 8000, 7700, 5800, 3600, 2200, 1350, 1200, 2200, 4000, 5800, 6800],
  stdLo: [0, 4500, 6500, 6300, 4700, 2900, 1700, 1000, 900, 1700, 3000, 4300, 5000],
  stdHi: [0, 7000, 9500, 9200, 7000, 4300, 2700, 1700, 1500, 2700, 5000, 7200, 8500],
  dst: [1400, 2400, 3700, 4400, 4600],
  dstLo: [1150, 2000, 3100, 3600, 3600],
  dstHi: [1650, 2800, 4300, 5200, 5700],
};
const OH: Panel = {
  ticks: [0, 2500, 5000, 7500],
  obs: [_, 900, 1100, 1050, 950, 800, 600, 550, 700, 900, 1000, 900, 750, 800, 1400, 3000, 5100, 5200, 4500, 3800, 2600],
  sd: [0, 900, 1250, 1300, 1250, 1150, 1050, 950, 1100, 2200, 3800, 4700, 4600],
  sdLo: [0, 800, 1120, 1170, 1120, 1030, 950, 850, 980, 1900, 3300, 4100, 4000],
  sdHi: [0, 1000, 1380, 1430, 1380, 1270, 1150, 1050, 1220, 2500, 4300, 5300, 5200],
  std: [0, 1200, 1650, 1700, 1550, 1300, 1150, 1050, 2000, 5000, 7400, 7000, 5000],
  stdLo: [0, 900, 1250, 1300, 1200, 1000, 900, 850, 1400, 3500, 5500, 5000, 3500],
  stdHi: [0, 1500, 2050, 2100, 1900, 1600, 1400, 1300, 2600, 6200, 8800, 8500, 6600],
  dst: [1100, 2000, 2500, 2300, 1900],
  dstLo: [980, 1700, 1800, 1500, 1100],
  dstHi: [1220, 2400, 3300, 3300, 2900],
};
const OK: Panel = {
  ticks: [0, 1000, 2000, 3000],
  obs: [200, 250, 200, 150, 150, 200, 300, 550, 650, 600, 550, 500, 600, 750, 1000, 1400, 1700, 1800, 1950, 1900, 1200],
  sd: [0, 300, 410, 440, 450, 440, 420, 410, 500, 900, 1450, 1850, 1900],
  sdLo: [0, 270, 380, 410, 420, 410, 390, 380, 460, 800, 1250, 1600, 1600],
  sdHi: [0, 330, 440, 470, 480, 470, 450, 440, 550, 1000, 1650, 2150, 2250],
  std: [0, 450, 680, 750, 720, 600, 500, 480, 800, 1700, 2700, 2700, 2000],
  stdLo: [0, 320, 480, 520, 500, 430, 380, 360, 550, 1100, 1700, 1600, 1100],
  stdHi: [0, 600, 880, 950, 920, 770, 630, 600, 1050, 2300, 3250, 3300, 2700],
  dst: [500, 700, 800, 750, 600],
  dstLo: [460, 400, 150, 0, 0],
  dstHi: [550, 1000, 1400, 1550, 1500],
};
const OR: Panel = {
  ticks: [0, 500, 1000, 1500, 2000],
  obs: [120, 280, 220, 180, 150, 140, 160, 200, 250, 230, 200, 180, 170, 180, 250, 400, 550, 600, 520, 430, 350],
  sd: [0, 100, 140, 150, 155, 155, 150, 150, 170, 280, 450, 620, 640],
  sdLo: [0, 90, 128, 138, 142, 142, 138, 138, 150, 220, 300, 380, 380],
  sdHi: [0, 110, 152, 162, 168, 168, 162, 162, 200, 380, 700, 950, 1100],
  std: [0, 140, 190, 200, 195, 185, 180, 190, 350, 800, 1300, 1500, 1300],
  stdLo: [0, 100, 140, 150, 145, 135, 130, 135, 220, 450, 700, 800, 650],
  stdHi: [0, 180, 240, 250, 245, 235, 230, 250, 480, 1200, 1900, 2000, 1600],
  dst: [170, 250, 320, 360, 330],
  dstLo: [150, 180, 150, 100, 50],
  dstHi: [200, 350, 550, 650, 650],
};
const PA: Panel = {
  ticks: [0, 3000, 6000, 9000, 12000],
  obs: [_, _, 1800, 2700, 2400, 1500, 1000, 800, 700, 650, 600, 550, 500, 550, 1100, 2500, 4500, 6000, 5800, 4500, 3700],
  sd: [0, 3300, 4500, 4400, 3500, 2500, 1700, 1100, 1300, 2800, 5000, 6600, 7200],
  sdLo: [0, 2900, 3900, 3800, 3000, 2100, 1450, 900, 1100, 2400, 4200, 5500, 5800],
  sdHi: [0, 3700, 5100, 5000, 4000, 2900, 1950, 1300, 1500, 3200, 5900, 7900, 9000],
  std: [0, 2500, 3500, 3600, 3000, 2200, 1500, 1000, 1000, 2200, 4200, 6400, 8000],
  stdLo: [0, 1800, 2600, 2700, 2200, 1600, 1100, 750, 750, 1600, 3100, 4700, 5800],
  stdHi: [0, 3200, 4400, 4500, 3800, 2800, 1900, 1300, 1300, 2900, 5500, 8500, 11500],
  dst: [1300, 3000, 5200, 5000, 4500],
  dstLo: [1100, 2500, 4200, 3500, 2600],
  dstHi: [1500, 3500, 6200, 6800, 7000],
};
const RI: Panel = {
  ticks: [0, 250, 500, 750],
  obs: [20, 80, 200, 330, 280, 180, 110, 80, 60, 70, 75, 80, 90, 120, 220, 330, 430, 450, 400, 370, 330],
  sd: [0, 230, 310, 320, 270, 200, 140, 95, 100, 200, 320, 440, 540],
  sdLo: [0, 210, 285, 295, 245, 180, 125, 82, 85, 170, 270, 360, 420],
  sdHi: [0, 250, 335, 345, 295, 220, 155, 108, 115, 230, 380, 540, 700],
  std: [0, 190, 260, 270, 230, 170, 120, 80, 70, 120, 220, 330, 420],
  stdLo: [0, 140, 190, 200, 170, 125, 85, 55, 45, 80, 150, 230, 290],
  stdHi: [0, 240, 320, 340, 290, 215, 155, 105, 95, 160, 290, 430, 550],
  dst: [100, 250, 430, 510, 530],
  dstLo: [85, 200, 330, 370, 350],
  dstHi: [115, 300, 530, 680, 850],
};
const SC: Panel = {
  ticks: [0, 1000, 2000],
  obs: [_, _, _, _, _, 420, 700, 1300, 1700, 1500, 1200, 950, 800, 700, 750, 850, 1100, 1500, 2000, 2450, 2000],
  sd: [0, 650, 870, 900, 850, 720, 600, 560, 650, 1000, 1500, 1900, 2000],
  sdLo: [0, 590, 800, 830, 780, 660, 550, 510, 590, 900, 1330, 1700, 1750],
  sdHi: [0, 710, 940, 970, 920, 780, 650, 610, 710, 1100, 1670, 2100, 2250],
  std: [0, 900, 1250, 1300, 1150, 900, 700, 650, 900, 1600, 2200, 2500, 2200],
  stdLo: [0, 650, 900, 950, 850, 680, 550, 500, 650, 1150, 1600, 1800, 1600],
  stdHi: [0, 1150, 1600, 1650, 1450, 1100, 850, 800, 1150, 2000, 2600, 2800, 2600],
  dst: [650, 800, 900, 800, 650],
  dstLo: [590, 600, 500, 350, 250],
  dstHi: [710, 1000, 1250, 1250, 1150],
};
const SD: Panel = {
  ticks: [0, 200, 400, 600],
  obs: [_, 50, 70, 80, 85, 80, 75, 70, 65, 60, 55, 70, 110, 250, 450, 600, 520, 380, 250, 180, 150],
  sd: [0, 60, 80, 85, 85, 80, 75, 72, 85, 130, 170, 190, 165],
  sdLo: [0, 53, 72, 77, 77, 72, 67, 64, 75, 110, 140, 150, 125],
  sdHi: [0, 67, 88, 93, 93, 88, 83, 80, 95, 155, 215, 240, 220],
  std: [0, 70, 95, 100, 95, 88, 80, 80, 130, 280, 380, 330, 230],
  stdLo: [0, 55, 75, 80, 76, 70, 65, 64, 95, 190, 250, 210, 140],
  stdHi: [0, 85, 115, 120, 114, 106, 96, 96, 165, 360, 480, 430, 320],
  dst: [85, 100, 110, 100, 80],
  dstLo: [75, 60, 30, 10, 0],
  dstHi: [95, 140, 190, 200, 200],
};
const TN: Panel = {
  ticks: [0, 2000, 4000],
  obs: [100, 400, 500, 500, 550, 600, 650, 900, 1400, 1350, 1150, 1000, 900, 1000, 1400, 2000, 2500, 3000, 3400, 3000, 1800],
  sd: [0, 700, 950, 1000, 950, 850, 750, 700, 850, 1600, 2600, 3300, 3300],
  sdLo: [0, 620, 860, 900, 860, 770, 680, 630, 770, 1420, 2300, 2900, 2850],
  sdHi: [0, 780, 1040, 1100, 1040, 930, 820, 770, 930, 1780, 2900, 3700, 3800],
  std: [0, 950, 1300, 1400, 1250, 1000, 850, 800, 1300, 2800, 4200, 4400, 3500],
  stdLo: [0, 700, 950, 1000, 900, 750, 650, 600, 950, 2000, 3000, 3100, 2400],
  stdHi: [0, 1200, 1650, 1750, 1550, 1250, 1050, 1000, 1650, 3600, 5300, 5500, 4500],
  dst: [850, 1250, 1550, 1450, 1150],
  dstLo: [770, 800, 600, 200, 0],
  dstHi: [930, 1700, 2500, 2700, 2600],
};
const TX: Panel = {
  ticks: [0, 5000, 10000, 15000, 20000],
  obs: [_, _, 1200, 1600, 1700, 1700, 2500, 6500, 10500, 10000, 7500, 5000, 3500, 3500, 4800, 7000, 9000, 10500, 12500, 14000, 11800],
  sd: [0, 2800, 3800, 4200, 4300, 4000, 3500, 3200, 3800, 6500, 10000, 13000, 13800],
  sdLo: [0, 2500, 3400, 3800, 3900, 3600, 3200, 2900, 3400, 5800, 9000, 11500, 11800],
  sdHi: [0, 3100, 4200, 4600, 4700, 4400, 3800, 3500, 4200, 7200, 11000, 14800, 16500],
  std: [0, 3800, 5300, 5800, 5600, 4800, 3900, 3500, 5000, 9000, 13500, 15500, 12500],
  stdLo: [0, 2600, 3600, 3900, 3800, 3300, 2800, 2600, 3600, 6500, 9800, 11000, 8500],
  stdHi: [0, 5200, 7700, 8300, 7600, 6200, 4900, 4400, 6600, 12000, 17500, 19000, 16500],
  dst: [3800, 5200, 6000, 5300, 4300],
  dstLo: [3400, 3500, 2000, 500, 0],
  dstHi: [4200, 7000, 10000, 11000, 11000],
};
const UT: Panel = {
  ticks: [0, 500, 1000, 1500],
  obs: [_, _, _, _, 200, 170, 200, 250, 250, 230, 200, 200, 220, 280, 400, 520, 580, 600, 580, 560, 540],
  sd: [0, 210, 280, 300, 300, 280, 250, 230, 280, 450, 650, 760, 750],
  sdLo: [0, 190, 255, 275, 275, 255, 225, 205, 240, 360, 470, 520, 500],
  sdHi: [0, 230, 305, 325, 325, 305, 275, 255, 330, 560, 900, 1150, 1180],
  std: [0, 280, 380, 400, 370, 320, 290, 280, 450, 950, 1350, 1400, 1150],
  stdLo: [0, 210, 285, 300, 280, 240, 215, 210, 320, 650, 900, 900, 700],
  stdHi: [0, 350, 470, 500, 460, 400, 360, 350, 580, 1250, 1650, 1700, 1500],
  dst: [280, 380, 420, 380, 300],
  dstLo: [240, 250, 150, 50, 0],
  dstHi: [330, 520, 700, 750, 750],
};
const VA: Panel = {
  ticks: [0, 1000, 2000, 3000, 4000],
  obs: [700, 1300, 1500, 1500, 1550, 1200, 1000, 1100, 1300, 1350, 1250, 1100, 1000, 1000, 1150, 1500, 2000, 2500, 3000, 3200, 2700],
  sd: [0, 1400, 1850, 1900, 1750, 1450, 1150, 950, 1000, 1600, 2500, 3000, 3000],
  sdLo: [0, 1250, 1700, 1750, 1600, 1330, 1050, 870, 910, 1450, 2250, 2650, 2550],
  sdHi: [0, 1550, 2000, 2050, 1900, 1570, 1250, 1030, 1090, 1750, 2750, 3400, 3500],
  std: [0, 1800, 2350, 2400, 2100, 1600, 1250, 1000, 1300, 2500, 3700, 4000, 3200],
  stdLo: [0, 1300, 1750, 1800, 1600, 1250, 1000, 820, 1000, 1900, 2800, 3000, 2400],
  stdHi: [0, 2300, 2950, 3000, 2600, 1950, 1500, 1200, 1600, 3100, 4300, 4450, 3800],
  dst: [1000, 1300, 1550, 1500, 1200],
  dstLo: [910, 1150, 1300, 1200, 900],
  dstHi: [1090, 1450, 1800, 1850, 1600],
};
const VT: Panel = {
  ticks: [0, 100, 200, 300],
  obs: [25, 70, 40, 30, 25, 20, 18, 18, 15, 15, 12, 12, 10, 5, 10, 20, 25, 35, 40, 45, 60],
  sd: [0, 190, 245, 240, 200, 145, 100, 60, 45, 110, 165, 180, 195],
  sdLo: [0, 170, 220, 215, 178, 128, 86, 48, 35, 90, 135, 140, 140],
  sdHi: [0, 210, 275, 270, 225, 165, 115, 72, 56, 130, 200, 240, 270],
  std: [0, 140, 185, 190, 165, 125, 88, 55, 40, 75, 120, 160, 170],
  stdLo: [0, 100, 140, 145, 125, 95, 65, 40, 28, 55, 90, 120, 130],
  stdHi: [0, 180, 230, 235, 205, 155, 110, 70, 52, 100, 150, 200, 215],
  dst: [45, 130, 185, 175, 170],
  dstLo: [35, 100, 140, 125, 110],
  dstHi: [56, 160, 230, 250, 260],
};
const WA: Panel = {
  ticks: [0, 1000, 2000, 3000],
  obs: [_, _, 600, 550, 500, 450, 500, 550, 550, 500, 480, 450, 420, 420, 500, 700, 1000, 1150, 1100, 950, 850],
  sd: [0, 320, 430, 460, 460, 440, 420, 400, 450, 650, 950, 1100, 950],
  sdLo: [0, 290, 390, 420, 420, 400, 380, 360, 400, 550, 750, 800, 650],
  sdHi: [0, 350, 470, 500, 500, 480, 460, 440, 510, 780, 1250, 1450, 1350],
  std: [0, 360, 480, 510, 500, 480, 460, 460, 750, 1700, 2500, 2400, 1700],
  stdLo: [0, 280, 380, 400, 400, 380, 360, 350, 500, 1100, 1600, 1500, 1000],
  stdHi: [0, 440, 590, 620, 610, 590, 560, 570, 1000, 2300, 3100, 3000, 2300],
  dst: [450, 600, 700, 650, 500],
  dstLo: [400, 400, 300, 150, 50],
  dstHi: [510, 850, 1150, 1250, 1200],
};
const WI: Panel = {
  ticks: [0, 1000, 2000, 3000],
  obs: [_, 250, 350, 400, 380, 330, 300, 320, 300, 280, 300, 330, 450, 800, 1500, 2200, 1800, 1400, 1100, 900, 700],
  sd: [0, 1000, 1350, 1450, 1350, 1100, 800, 580, 600, 1200, 1900, 2300, 2000],
  sdLo: [0, 900, 1230, 1330, 1230, 1000, 720, 510, 520, 1050, 1650, 1950, 1650],
  sdHi: [0, 1100, 1470, 1570, 1470, 1200, 880, 650, 680, 1350, 2150, 2650, 2400],
  std: [0, 1100, 1450, 1550, 1400, 1150, 850, 620, 800, 1900, 2900, 2900, 2200],
  stdLo: [0, 900, 1200, 1300, 1180, 960, 700, 510, 620, 1450, 2300, 2300, 1700],
  stdHi: [0, 1300, 1700, 1850, 1650, 1350, 1000, 740, 980, 2300, 3400, 3400, 2700],
  dst: [600, 1200, 1550, 1200, 850],
  dstLo: [520, 1050, 1300, 950, 650],
  dstHi: [680, 1350, 1800, 1500, 1100],
};
const WV: Panel = {
  ticks: [0, 500, 1000, 1500],
  obs: [_, _, 80, 90, 80, 60, 50, 45, 70, 120, 150, 150, 150, 170, 250, 400, 550, 700, 800, 750, 500],
  sd: [0, 70, 95, 105, 115, 125, 135, 145, 200, 350, 600, 820, 950],
  sdLo: [0, 63, 86, 95, 105, 115, 125, 133, 180, 310, 520, 700, 800],
  sdHi: [0, 77, 104, 115, 125, 135, 145, 157, 220, 400, 720, 980, 1150],
  std: [0, 90, 125, 135, 140, 150, 165, 180, 350, 800, 1250, 1400, 1100],
  stdLo: [0, 70, 100, 110, 115, 125, 135, 150, 260, 550, 850, 900, 700],
  stdHi: [0, 110, 150, 160, 170, 180, 200, 220, 450, 1050, 1600, 1700, 1400],
  dst: [200, 320, 400, 380, 350],
  dstLo: [180, 280, 320, 280, 230],
  dstHi: [220, 370, 500, 500, 470],
};
const WY: Panel = {
  ticks: [0, 100, 200, 300, 400],
  obs: [_, _, _, 20, 15, 12, 12, 15, 18, 20, 20, 22, 25, 40, 100, 180, 240, 200, 130, 90, 60],
  sd: [0, 45, 60, 65, 63, 58, 52, 48, 60, 110, 170, 210, 200],
  sdLo: [0, 40, 55, 59, 57, 52, 46, 42, 52, 90, 140, 170, 155],
  sdHi: [0, 50, 65, 71, 69, 64, 58, 54, 70, 135, 210, 260, 260],
  std: [0, 60, 85, 90, 85, 75, 65, 60, 110, 250, 340, 330, 250],
  stdLo: [0, 45, 65, 70, 65, 57, 50, 46, 80, 170, 240, 220, 160],
  stdHi: [0, 75, 105, 110, 105, 93, 80, 75, 140, 330, 420, 410, 330],
  dst: [60, 100, 120, 110, 80],
  dstLo: [52, 80, 80, 60, 40],
  dstHi: [70, 120, 160, 160, 130],
};

const stateNames = [
  'AL', 'AR', 'AZ', 'CA', 'CO', 'CT', 'DC', 'DE', 'FL',
  'GA', 'HI', 'IA', 'ID', 'IL', 'IN', 'KS', 'KY', 'LA',
  'MA', 'MD', 'ME', 'MI', 'MN', 'MO', 'MS', 'MT', 'NC',
  'ND', 'NE', 'NH', 'NJ', 'NM', 'NV', 'NY', 'OH', 'OK',
  'OR', 'PA', 'RI', 'SC', 'SD', 'TN', 'TX', 'UT', 'VA',
  'VT', 'WA', 'WI', 'WV', 'WY',
];
const panels: Panel[] = [
  AL, AR, AZ, CA, CO, CT, DC, DE, FL,
  GA, HI, IA, ID, IL, IN, KS, KY, LA,
  MA, MD, ME, MI, MN, MO, MS, MT, NC,
  ND, NE, NH, NJ, NM, NV, NY, OH, OK,
  OR, PA, RI, SC, SD, TN, TX, UT, VA,
  VT, WA, WI, WV, WY,
];

// layout
const AXIS_X0 = 112;
const AXIS_Y0 = 155;
const PITCH_X = 184;
const PITCH_Y = 180.7;
const PANEL_W = 125;
const PANEL_H = 124;
const YW = 56;
const XH = 30;
const TOP_PAD = 8;

const ORANGE = '#d2691e';
const PURPLE = '#7a76c4';
const DARKRED = '#8b1a2b';
const FONT = '"Liberation Sans", Arial, Helvetica, sans-serif';

function points(days: number[], vals: (number | null)[]) {
  const off = days.length - vals.length;
  const out: { d: number; v: number }[] = [];
  vals.forEach((v, i) => {
    if (v != null) out.push({ d: days[i + off], v });
  });
  return out;
}

function ribbon(days: number[], lo: number[], hi: number[]) {
  const off = days.length - lo.length;
  return lo.map((l, i) => ({ d: days[i + off], r: [l, hi[i]] }));
}

function StatePanel({ name, p, col, row }: { name: string; p: Panel; col: number; row: number }) {
  const axisX = AXIS_X0 + col * PITCH_X;
  const axisY = AXIS_Y0 + row * PITCH_Y;
  const all = [...p.obs, ...p.sdHi, ...p.stdHi, ...p.dstHi, ...p.std, ...p.dst].filter(
    (v): v is number => v != null
  );
  const top = Math.max(Math.max(...all) * 1.05, p.ticks[p.ticks.length - 1] * 1.01);
  const domain = [-top * 0.045, top];
  const tickStyle = { fill: '#4d4d4d', fontSize: 14, fontFamily: FONT };

  return (
    <>
      <div
        style={{
          position: 'absolute',
          left: axisX + PANEL_W / 2 - 40,
          width: 80,
          top: axisY - 133 - 11,
          height: 22,
          lineHeight: '22px',
          textAlign: 'center',
          fontWeight: 'bold',
          fontSize: 18.5,
          fontFamily: FONT,
          color: '#1a1a1a',
        }}
      >
        {name}
      </div>
      <div style={{ position: 'absolute', left: axisX - YW, top: axisY - PANEL_H - TOP_PAD }}>
        <ComposedChart
          width={YW + PANEL_W + 2}
          height={TOP_PAD + PANEL_H + XH}
          margin={{ top: TOP_PAD, right: 2, bottom: 0, left: 0 }}
        >
          <XAxis
            type="number"
            dataKey="d"
            domain={[-10, 350]}
            ticks={monthTicks}
            interval={0}
            allowDataOverflow
            tickFormatter={(d: number) => monthNames[d] ?? ''}
            height={XH}
            tickSize={4}
            tickMargin={8}
            tick={tickStyle}
            axisLine={{ stroke: '#000', strokeWidth: 1.3 }}
            tickLine={{ stroke: '#333', strokeWidth: 1 }}
          />
          <YAxis
            type="number"
            domain={domain}
            ticks={p.ticks}
            interval={0}
            allowDataOverflow
            width={YW}
            tickSize={4}
            tickMargin={3}
            tick={tickStyle}
            axisLine={{ stroke: '#000', strokeWidth: 1.3 }}
            tickLine={{ stroke: '#333', strokeWidth: 1 }}
          />
          <Area
            data={points(obsDays, p.obs)}
            dataKey="v"
            type="linear"
            stroke="#000"
            strokeWidth={3}
            fill="none"
            dot={false}
            activeDot={false}
            isAnimationActive={false}
          />
          <Area
            data={ribbon(modelDays, p.stdLo, p.stdHi)}
            dataKey="r"
            type="monotone"
            stroke="none"
            fill="#6a6ac8"
            fillOpacity={0.18}
            dot={false}
            activeDot={false}
            isAnimationActive={false}
          />
          <Area
            data={ribbon(modelDays, p.dstLo, p.dstHi)}
            dataKey="r"
            type="monotone"
            stroke="none"
            fill={DARKRED}
            fillOpacity={0.22}
            dot={false}
            activeDot={false}
            isAnimationActive={false}
          />
          <Area
            data={ribbon(modelDays, p.sdLo, p.sdHi)}
            dataKey="r"
            type="monotone"
            stroke="none"
            fill={ORANGE}
            fillOpacity={0.35}
            dot={false}
            activeDot={false}
            isAnimationActive={false}
          />
          <Line
            data={points(modelDays, p.std)}
            dataKey="v"
            type="monotone"
            stroke={PURPLE}
            strokeWidth={1.8}
            strokeDasharray="6 4"
            dot={false}
            activeDot={false}
            isAnimationActive={false}
          />
          <Line
            data={points(modelDays, p.dst)}
            dataKey="v"
            type="monotone"
            stroke={DARKRED}
            strokeWidth={1.8}
            strokeDasharray="6 4"
            dot={false}
            activeDot={false}
            isAnimationActive={false}
          />
          <Line
            data={points(modelDays, p.sd)}
            dataKey="v"
            type="monotone"
            stroke={ORANGE}
            strokeWidth={3}
            dot={false}
            activeDot={false}
            isAnimationActive={false}
          />
        </ComposedChart>
      </div>
    </>
  );
}

const legendItems = [
  { label: 'Observed', color: '#000', dash: '', x: 1068, y: 1004 },
  { label: 'sd (Seasonal DST)', color: ORANGE, dash: '', x: 1068, y: 1032 },
  { label: 'sd (Perm. std. time)', color: PURPLE, dash: '6 6', x: 1360, y: 1004 },
  { label: 'sd (Perm. DST)', color: DARKRED, dash: '6 6', x: 1360, y: 1032 },
];

export default function App() {
  return (
    <div
      style={{
        position: 'absolute',
        left: 0,
        top: 0,
        width: 1707,
        height: 1085,
        background: '#fff',
        overflow: 'hidden',
        fontFamily: FONT,
      }}
    >
      {panels.map((p, i) => (
        <StatePanel key={stateNames[i]} name={stateNames[i]} p={p} col={i % 9} row={Math.floor(i / 9)} />
      ))}

      <div
        style={{
          position: 'absolute',
          left: 24 - 200,
          top: 556 - 16,
          width: 400,
          height: 32,
          lineHeight: '32px',
          textAlign: 'center',
          transform: 'rotate(-90deg)',
          fontWeight: 'bold',
          fontSize: 26,
          color: '#000',
        }}
      >
        Currently hospitalized
      </div>

      <div
        style={{
          position: 'absolute',
          left: 1055,
          top: 988,
          width: 583,
          height: 56,
          border: '2px solid #c8c8c8',
        }}
      />
      {legendItems.map((it) => (
        <React.Fragment key={it.label}>
          <svg
            style={{ position: 'absolute', left: it.x, top: it.y - 5 }}
            width={62}
            height={10}
          >
            <line
              x1={0}
              y1={5}
              x2={62}
              y2={5}
              stroke={it.color}
              strokeWidth={6}
              strokeDasharray={it.dash || undefined}
            />
          </svg>
          <div
            style={{
              position: 'absolute',
              left: it.x + 76,
              top: it.y - 13,
              height: 26,
              lineHeight: '26px',
              fontSize: 21,
              color: '#000',
              whiteSpace: 'nowrap',
            }}
          >
            {it.label}
          </div>
        </React.Fragment>
      ))}
    </div>
  );
}
